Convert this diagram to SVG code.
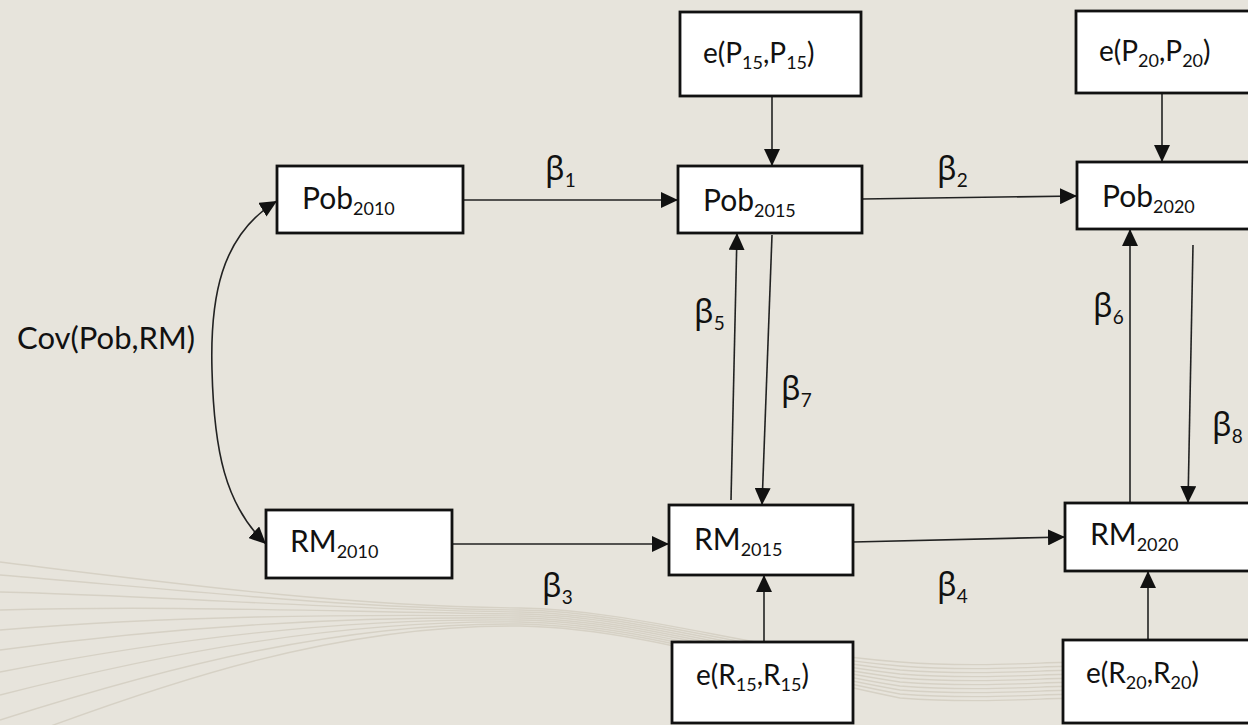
<svg xmlns="http://www.w3.org/2000/svg" width="1248" height="725" viewBox="0 0 1248 725">
<defs>
<marker id="ah" markerUnits="userSpaceOnUse" markerWidth="18" markerHeight="16" refX="17" refY="8" orient="auto-start-reverse">
<path d="M0,0 L17,8 L0,16 z" fill="#111"/>
</marker>
<style>
.bg{fill:#E7E4DC}
.deco{fill:none;stroke:#D6D1C5;stroke-width:1.4}
.box{fill:#fff;stroke:#111;stroke-width:2.8}
.con{fill:none;stroke:#222;stroke-width:1.6}
.t{font-family:Lato,"Open Sans","Noto Sans",sans-serif;font-size:30px;fill:#111}
.c{font-size:31px}
.e{font-family:Lato,"Open Sans","Noto Sans",sans-serif;font-size:28px;fill:#111}
.s{font-size:18px}
.b{font-family:"Noto Sans","DejaVu Sans",sans-serif;font-size:32px;fill:#111}
.bs{font-family:Lato,"Noto Sans",sans-serif;font-size:19px}
</style>
</defs>
<rect class="bg" x="0" y="0" width="1248" height="725"/>
<g id="background">
<path class="deco" d="M0,562 C170,583 340,606 520,608 C640,610 760,652 900,662 C980,668 1040,662 1080,662"/>
<path class="deco" d="M0,575 C170,589 340,608 520,610 C640,612 760,654 900,666 C980,672 1040,666 1080,666"/>
<path class="deco" d="M0,592 C170,596 340,610 520,612 C640,614 760,656 900,670 C980,676 1040,670 1080,670"/>
<path class="deco" d="M0,610 C170,605 340,612 520,614 C640,616 760,658 900,674 C980,680 1040,674 1080,674"/>
<path class="deco" d="M0,630 C170,616 340,614 520,616 C640,618 760,660 900,678 C980,684 1040,678 1080,678"/>
<path class="deco" d="M0,650 C170,627 340,616 520,618 C640,620 760,662 900,682 C980,688 1040,682 1080,682"/>
<path class="deco" d="M0,672 C170,639 340,618 520,620 C640,622 760,664 900,686 C980,692 1040,686 1080,686"/>
<path class="deco" d="M0,695 C170,652 340,620 520,622 C640,624 760,666 900,690 C980,696 1040,690 1080,690"/>
<path class="deco" d="M0,720 C170,666 340,622 520,624 C640,626 760,668 900,694 C980,700 1040,694 1080,694"/>
<path class="deco" d="M0,745 C170,680 340,624 520,626 C640,628 760,670 900,698 C980,704 1040,698 1080,698"/>
</g>
<g id="connectors">
<path class="con" d="M463,200 L678,200" marker-end="url(#ah)"/>
<path class="con" d="M862,199 L1077,196" marker-end="url(#ah)"/>
<path class="con" d="M452,544 L669,544" marker-end="url(#ah)"/>
<path class="con" d="M853,542 L1065,537" marker-end="url(#ah)"/>
<path class="con" d="M731,500 L737,233" marker-end="url(#ah)"/>
<path class="con" d="M772,235 L762,505" marker-end="url(#ah)"/>
<path class="con" d="M1130,502 L1130,229" marker-end="url(#ah)"/>
<path class="con" d="M1193,245 L1188,503" marker-end="url(#ah)"/>
<path class="con" d="M772,97 L772,166" marker-end="url(#ah)"/>
<path class="con" d="M1162,93 L1162,162" marker-end="url(#ah)"/>
<path class="con" d="M764,642 L764,575" marker-end="url(#ah)"/>
<path class="con" d="M1148,640 L1148,571" marker-end="url(#ah)"/>
<path class="con" d="M277,201 C220,235 210,300 212,370 C214,450 225,505 266,544" marker-start="url(#ah)" marker-end="url(#ah)"/>
</g>
<g id="labels">
<text class="t c" x="17" y="349">Cov(Pob,RM)</text>
<text class="b" x="545" y="180">β<tspan class="bs" dy="7">1</tspan></text>
<text class="b" x="937" y="180">β<tspan class="bs" dy="7">2</tspan></text>
<text class="b" x="542" y="597">β<tspan class="bs" dy="7">3</tspan></text>
<text class="b" x="937" y="596">β<tspan class="bs" dy="7">4</tspan></text>
<text class="b" x="694" y="323">β<tspan class="bs" dy="7">5</tspan></text>
<text class="b" x="1093" y="317">β<tspan class="bs" dy="7">6</tspan></text>
<text class="b" x="781" y="400">β<tspan class="bs" dy="7">7</tspan></text>
<text class="b" x="1212" y="436">β<tspan class="bs" dy="7">8</tspan></text>
</g>
<g id="Pob2010">
<rect class="box" x="277" y="166" width="186" height="67"/>
<text class="t" x="302" y="209">Pob<tspan class="s" dy="6">2010</tspan></text>
</g>
<g id="RM2010">
<rect class="box" x="266" y="510" width="186" height="68"/>
<text class="t" x="290" y="552">RM<tspan class="s" dy="6">2010</tspan></text>
</g>
<g id="Pob2015">
<rect class="box" x="678" y="166" width="184" height="67"/>
<text class="t" x="703" y="211">Pob<tspan class="s" dy="6">2015</tspan></text>
</g>
<g id="RM2015">
<rect class="box" x="669" y="505" width="184" height="70"/>
<text class="t" x="694" y="550">RM<tspan class="s" dy="6">2015</tspan></text>
</g>
<g id="Pob2020">
<rect class="box" x="1077" y="162" width="200" height="67"/>
<text class="t" x="1102" y="207">Pob<tspan class="s" dy="6">2020</tspan></text>
</g>
<g id="RM2020">
<rect class="box" x="1065" y="503" width="210" height="68"/>
<text class="t" x="1090" y="545">RM<tspan class="s" dy="6">2020</tspan></text>
</g>
<g id="eP15">
<rect class="box" x="680" y="12" width="181" height="84"/>
<text class="e" x="703" y="63">e(P<tspan class="s" dy="6">15</tspan><tspan dy="-6">,P</tspan><tspan class="s" dy="6">15</tspan><tspan dy="-6">)</tspan></text>
</g>
<g id="eP20">
<rect class="box" x="1076" y="11" width="200" height="82"/>
<text class="e" x="1099" y="61">e(P<tspan class="s" dy="6">20</tspan><tspan dy="-6">,P</tspan><tspan class="s" dy="6">20</tspan><tspan dy="-6">)</tspan></text>
</g>
<g id="eR15">
<rect class="box" x="672" y="642" width="181" height="81"/>
<text class="e" x="696" y="685">e(R<tspan class="s" dy="6">15</tspan><tspan dy="-6">,R</tspan><tspan class="s" dy="6">15</tspan><tspan dy="-6">)</tspan></text>
</g>
<g id="eR20">
<rect class="box" x="1063" y="640" width="210" height="83"/>
<text class="e" x="1086" y="683">e(R<tspan class="s" dy="6">20</tspan><tspan dy="-6">,R</tspan><tspan class="s" dy="6">20</tspan><tspan dy="-6">)</tspan></text>
</g>
</svg>
